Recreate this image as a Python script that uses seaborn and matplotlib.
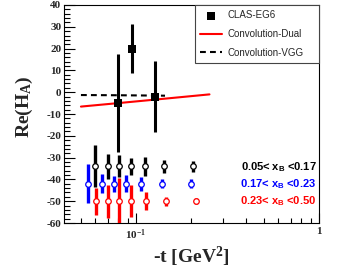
import numpy as np
import pandas as pd
import seaborn as sns
import matplotlib
matplotlib.use("Agg")
import matplotlib.pyplot as plt
from matplotlib.ticker import FixedLocator, FixedFormatter, NullFormatter, MultipleLocator

# ---------------- data ----------------
# CLAS-EG6 measurements
clas_t = [0.080, 0.0947, 0.127]
clas_val = [-5.0, 20.0, -2.0]
clas_err = [22.5, 11.3, 16.3]

# Convolution-Dual model
dual_t = [0.05, 0.08, 0.127, 0.252]
dual_val = [-6.6, -5.0, -3.4, -1.0]

# Convolution-VGG model
vgg_t = [0.05, 0.08, 0.11, 0.144]
vgg_val = [-1.3, -1.4, -1.5, -1.6]

# projected uncertainties (offset bands)
bin1_t = [0.0599, 0.0700, 0.0807, 0.0933, 0.112, 0.143, 0.204]
bin1_val = [-34, -34, -34, -34, -34, -34, -34]
bin1_err = [9.7, 5.6, 5.0, 4.0, 4.5, 3.0, 2.5]

bin2_t = [0.0548, 0.0650, 0.0755, 0.0879, 0.1065, 0.138, 0.199]
bin2_val = [-42, -42, -42, -42, -42, -42, -42]
bin2_err = [9.0, 4.4, 3.7, 4.0, 3.2, 2.0, 2.0]

bin3_t = [0.0604, 0.0700, 0.0807, 0.0939, 0.113, 0.145, 0.213]
bin3_val = [-50, -50, -50, -50, -50, -50, -50]
bin3_err = [6.2, 7.5, 10.5, 7.3, 4.2, 2.0, 1.5]

bin_labels = ["0.05< x$_{\\mathsf{B}}$ <0.17",
              "0.17< x$_{\\mathsf{B}}$ <0.23",
              "0.23< x$_{\\mathsf{B}}$ <0.50"]
bin_colors = ["black", "blue", "red"]

legend_labels = ["CLAS-EG6", "Convolution-Dual", "Convolution-VGG"]

# ---------------- style ----------------
sns.set_theme(style="ticks")
plt.rcParams["font.family"] = ["Liberation Serif", "DejaVu Serif"]
plt.rcParams["font.weight"] = "bold"
plt.rcParams["mathtext.fontset"] = "custom"
plt.rcParams["mathtext.rm"] = "Liberation Serif:bold"
plt.rcParams["mathtext.bf"] = "Liberation Serif:bold"
plt.rcParams["mathtext.it"] = "Liberation Serif:bold:italic"
plt.rcParams["mathtext.sf"] = "Liberation Sans:bold"
plt.rcParams["axes.unicode_minus"] = False

fig = plt.figure(figsize=(3.55, 2.72), dpi=100)
ax = fig.add_axes([64/355, 1-223/272, (319-64)/355, (223-5)/272])

# models
dual_df = pd.DataFrame({"t": dual_t, "v": dual_val})
vgg_df = pd.DataFrame({"t": vgg_t, "v": vgg_val})
sns.lineplot(data=dual_df, x="t", y="v", ax=ax, color="red", lw=1.5,
             label=legend_labels[1], zorder=2)
sns.lineplot(data=vgg_df, x="t", y="v", ax=ax, color="black", lw=1.5,
             label=legend_labels[2], zorder=2)
ax.lines[-1].set_dashes([2.8, 2.0])

# CLAS data
ax.errorbar(clas_t, clas_val, yerr=clas_err, fmt="none", ecolor="black",
            elinewidth=2.2, capsize=0, zorder=3)
sns.scatterplot(x=clas_t, y=clas_val, ax=ax, marker="s", color="black",
                s=36, edgecolor="black", linewidth=0, label=legend_labels[0],
                zorder=4)

# projected bins
for tt, vv, ee, c in [(bin1_t, bin1_val, bin1_err, bin_colors[0]),
                      (bin2_t, bin2_val, bin2_err, bin_colors[1]),
                      (bin3_t, bin3_val, bin3_err, bin_colors[2])]:
    ax.errorbar(tt, vv, yerr=ee, fmt="o", color=c, ecolor=c, elinewidth=2.4,
                capsize=0, ms=4.0, mfc="white", mec=c, mew=0.9, zorder=3)

# axes
ax.set_xscale("log")
ax.set_xlim(0.0404, 1.0)
ax.set_ylim(-60, 40)
ax.xaxis.set_major_locator(FixedLocator([0.1, 1.0]))
ax.xaxis.set_major_formatter(FixedFormatter(["$\\mathrm{10^{-1}}$", "1"]))
minor = [0.05, 0.06, 0.07, 0.08, 0.09, 0.2, 0.3, 0.4, 0.5, 0.6, 0.7, 0.8, 0.9]
ax.xaxis.set_minor_locator(FixedLocator(minor))
ax.xaxis.set_minor_formatter(NullFormatter())
ax.yaxis.set_major_locator(MultipleLocator(10))
ax.yaxis.set_minor_locator(MultipleLocator(2))
ax.tick_params(axis="both", which="both", direction="in", color="black",
               width=0.8, labelsize=8, top=False, right=False)
ax.tick_params(axis="y", which="major", length=8, pad=2)
ax.tick_params(axis="y", which="minor", length=4)
ax.tick_params(axis="x", which="major", length=7, pad=3)
ax.tick_params(axis="x", which="minor", length=3.5)
for s in ax.spines.values():
    s.set_visible(True)
    s.set_linewidth(0.8)
    s.set_color("black")

ax.set_xlabel("-t [GeV$^{\\mathrm{2}}$]", fontsize=14, fontweight="bold")
ax.xaxis.set_label_coords(0.5, -0.10)
ax.set_ylabel("Re(H$_{\\mathrm{A}}$)", fontsize=14, fontweight="bold")
ax.yaxis.set_label_coords(-0.115, 0.534)

# legend
handles, labels = ax.get_legend_handles_labels()
order = [labels.index(l) for l in legend_labels]
leg = ax.legend([handles[i] for i in order], [labels[i] for i in order],
                loc="upper left", bbox_to_anchor=(0.514, 1.0, 0.486, 0.0),
                mode="expand", borderaxespad=0, fancybox=False,
                frameon=True, edgecolor="#444444", framealpha=1,
                prop={"family": "Liberation Sans", "size": 7.0,
                      "weight": "normal"},
                handlelength=2.2, handletextpad=0.6, labelspacing=0.9,
                borderpad=0.55, markerscale=0.9)
leg.get_frame().set_linewidth(0.8)

# bin annotations
for i, (lab, c) in enumerate(zip(bin_labels, bin_colors)):
    ax.text(0.99, [0.258, 0.178, 0.098][i], lab, transform=ax.transAxes,
            ha="right", va="center", color=c, fontsize=8,
            family="Liberation Sans", fontweight="bold")

fig.savefig("out.png", dpi=100)
